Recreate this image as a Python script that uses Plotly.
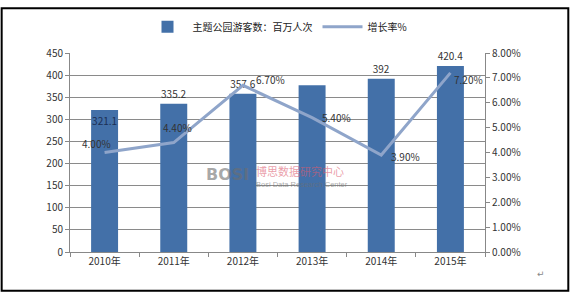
import plotly.graph_objects as go

years = ["2010年", "2011年", "2012年", "2013年", "2014年", "2015年"]
visitors = [321.1, 335.2, 357.6, 376.9, 392, 420.4]
visitor_labels = ["321.1", "335.2", "357.6", "", "392", "420.4"]
visitor_label_pos = ["inside", "outside", "outside", "outside", "outside", "outside"]
growth = [0.040, 0.044, 0.067, 0.054, 0.039, 0.072]
growth_labels = ["4.00%", "4.40%", "6.70%", "5.40%", "3.90%", "7.20%"]
# label offsets (pixels) relative to each point
label_dx = [-8, 4, 28, 24, 24, 18]
label_dy = [9, 15, 6, 0, -2, -7]

W, H = 571, 295
L, R, T, B = 69.5, 85.5, 47, 43
pw, ph = W - L - R, H - T - B

font = "Noto Sans CJK SC, DejaVu Sans, sans-serif"

fig = go.Figure()
fig.add_trace(go.Bar(
    x=years, y=visitors, name="主题公园游客数：百万人次",
    marker=dict(color="#4370A8", line=dict(width=0)),
    text=visitor_labels, textposition=visitor_label_pos, cliponaxis=False,
    insidetextanchor="end", constraintext="none", textangle=0,
    insidetextfont=dict(size=10, color="#1B2F55"),
    outsidetextfont=dict(size=10, color="#333333"),
))
fig.add_trace(go.Scatter(
    x=years, y=growth, name="增长率%", yaxis="y2", mode="lines",
    line=dict(color="#8FA5CA", width=3),
))

for yr, g, lab, dx, dy in zip(years, growth, growth_labels, label_dx, label_dy):
    fig.add_annotation(x=yr, y=g, xref="x", yref="y2", text=lab, showarrow=False,
                       xshift=dx, yshift=dy, font=dict(size=10, color="#333333"))

fig.update_layout(
    width=W, height=H,
    margin=dict(l=L, r=R, t=T, b=B),
    paper_bgcolor="white", plot_bgcolor="white",
    font=dict(family=font, size=10, color="#333333"),
    bargap=0.61,
    showlegend=True,
    legend=dict(orientation="h", x=0.5, xanchor="center", y=1 + 27 / ph, yanchor="middle",
                font=dict(size=10, color="#222222"), itemwidth=40, traceorder="normal"),
    xaxis=dict(showline=True, linecolor="#888888", ticks="outside", tickson="boundaries",
               ticklen=4, tickcolor="#888888", tickfont=dict(size=10)),
    yaxis=dict(range=[0, 450], dtick=50, showgrid=True, gridcolor="#8a8a8a", gridwidth=1,
               showline=True, linecolor="#888888", ticks="outside", ticklen=4,
               tickcolor="#888888", zeroline=False, tickfont=dict(size=10)),
    yaxis2=dict(range=[0, 0.08], dtick=0.01, tickformat=".2%", overlaying="y", side="right",
                showgrid=False, showline=True, linecolor="#888888", ticks="outside",
                ticklen=4, tickcolor="#888888", zeroline=False, tickfont=dict(size=10)),
)

# outer border
fig.add_shape(type="rect", xref="paper", yref="paper",
              x0=(1 - L) / pw, x1=(W - 2 - L) / pw,
              y0=-(B - 3) / ph, y1=1 + (T - 1) / ph,
              line=dict(color="black", width=2), fillcolor="rgba(0,0,0,0)")

# watermark
fig.add_annotation(xref="paper", yref="paper", x=(227 - L) / pw, y=(H - B - 172) / ph,
                   text="<b>BOSI</b>", showarrow=False,
                   font=dict(size=16, color="rgba(110,110,110,0.6)", family="DejaVu Sans"))
fig.add_annotation(xref="paper", yref="paper", x=(300 - L) / pw, y=(H - B - 169) / ph,
                   text="博思数据研究中心", showarrow=False,
                   font=dict(size=11, color="rgba(220,90,110,0.6)"))
fig.add_annotation(xref="paper", yref="paper", x=(302 - L) / pw, y=(H - B - 182) / ph,
                   text="Bosi Data Research Center", showarrow=False,
                   font=dict(size=7.5, color="rgba(110,110,110,0.6)", family="Liberation Sans"))
fig.add_annotation(xref="paper", yref="paper", x=(548 - L) / pw, y=(H - B - 283) / ph,
                   text="↵", showarrow=False, font=dict(size=9, color="#888888"))

fig.write_html("out.html")
